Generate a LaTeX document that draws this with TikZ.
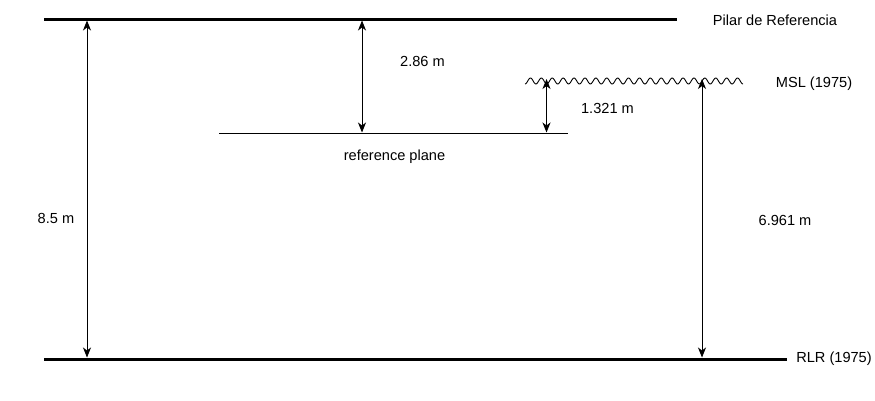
\documentclass[tikz,border=0pt]{standalone}
\usepackage{fontspec}
\setmainfont{Liberation Sans}
\usetikzlibrary{arrows.meta}
\begin{document}
\begin{tikzpicture}[x=1pt,y=-1pt,
  level/.style={line width=3pt},
  plane/.style={line width=1pt},
  dim/.style={line width=0.9pt,{Stealth[length=10pt,width=8pt,inset=3pt]}-{Stealth[length=10pt,width=8pt,inset=3pt]}},
  lbl/.style={inner sep=0pt,font=\fontsize{14.6}{17}\selectfont}]
\useasboundingbox (0,0) rectangle (875,400);
% levels
\coordinate (topL) at (44,19);
\coordinate (topR) at (677,19);
\coordinate (botL) at (44,359);
\coordinate (botR) at (787,359);
\coordinate (refL) at (219,133);
\coordinate (refR) at (568,133);
\draw[level] (topL) -- (topR);
\draw[level] (botL) -- (botR);
\draw[plane] (refL) -- (refR);
% mean sea level wave
\draw[line width=0.9pt] plot[domain=0:218,samples=300,smooth] ({525+\x},{81+3*cos(33.03*\x)});
% arrow end points
\coordinate (a1t) at (87,20.5);
\coordinate (a1b) at (87,357.5);
\coordinate (a2t) at (362,20.5);
\coordinate (a2b) at (362,132.5);
\coordinate (a3t) at (546.5,79);
\coordinate (a3b) at (546.5,132.5);
\coordinate (a4t) at (702,79);
\coordinate (a4b) at (702,357.5);
\draw[dim] (a1t) -- (a1b);
\draw[dim] (a2t) -- (a2b);
\draw[dim] (a3t) -- (a3b);
\draw[dim] (a4t) -- (a4b);
% labels
\node[lbl] (pilar) at (775,20) {Pilar de Referencia};
\node[lbl] (msl) at (814,84) {MSL (1975)};
\node[lbl] (rlr) at (834,359) {RLR (1975)};
\node[lbl] (refp) at (394.5,157) {reference plane};
\node[lbl] (d286) at (422.5,61) {2.86 m};
\node[lbl] (d1321) at (607.5,108) {1.321 m};
\node[lbl] (d85) at (56,218) {8.5 m};
\node[lbl] (d6961) at (785,220) {6.961 m};
\end{tikzpicture}
\end{document}
